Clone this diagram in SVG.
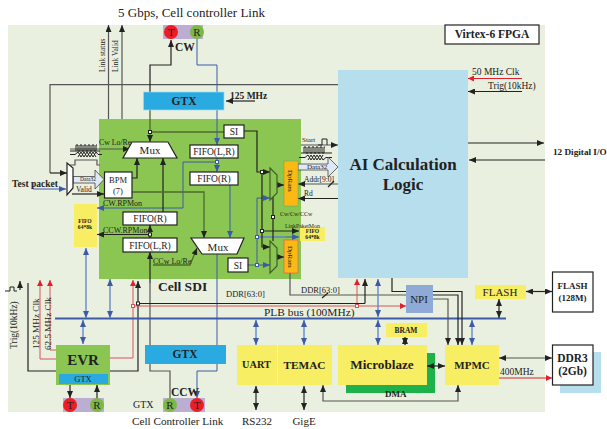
<svg xmlns="http://www.w3.org/2000/svg" width="607" height="429" viewBox="0 0 607 429">
<style>
text{font-family:"Liberation Serif","Times New Roman",serif;fill:#222}
.b{font-weight:bold}
.m{text-anchor:middle}
.box{fill:#fff;stroke:#222;stroke-width:1.2}
.yel{fill:#f8ee63}
.blk{fill:none;stroke:#222;stroke-width:1}
.k2{fill:none;stroke:#222;stroke-width:1.2}
.gr{fill:none;stroke:#555;stroke-width:1.2}
.dg{fill:none;stroke:#4e6a2c;stroke-width:1.3}
.blu{fill:none;stroke:#3c5aa8;stroke-width:1}
.bl2{fill:none;stroke:#6e8fca;stroke-width:1.5}
.red{fill:none;stroke:#d9535a;stroke-width:1}
.red2{fill:none;stroke:#e0202c;stroke-width:1}
.sq{stroke:#222;fill:#fff;stroke-width:1}
.T{fill:#ee1c25}.R{fill:#7cb846}.P{fill:#bcaed2}
.gtx{fill:#29abe2}
.mux{fill:#8bc653;stroke:#3f5f25;stroke-width:1.2}
</style>
<defs>
<marker id="a" markerUnits="userSpaceOnUse" markerWidth="8" markerHeight="6" refX="7" refY="3" orient="auto-start-reverse"><path d="M0 0L7 3L0 6Z" fill="#222"/></marker>
<marker id="ab" markerUnits="userSpaceOnUse" markerWidth="8" markerHeight="6" refX="7" refY="3" orient="auto-start-reverse"><path d="M0 0L7 3L0 6Z" fill="#3c5aa8"/></marker>
<marker id="ar" markerUnits="userSpaceOnUse" markerWidth="7" markerHeight="6" refX="6" refY="3" orient="auto-start-reverse"><path d="M0 0L6 3L0 6Z" fill="#e0202c"/></marker>
</defs>
<rect x="8" y="25" width="537" height="387" fill="#eaf0df"/>
<rect x="560" y="352" width="41" height="41" fill="#b7deec"/>
<rect x="99" y="119" width="202" height="160" fill="#8bc653"/>
<rect x="338" y="70" width="130" height="208" fill="#b7deec"/>
<rect x="346" y="353" width="89" height="40" fill="#1db14b"/>

<g id="connectors">
<path class="gr" d="M50 173V84.700H338"/>
<path class="k2" marker-end="url(#a)" d="M50 173H67"/>
<path class="gr" marker-end="url(#a)" d="M108.500 119V25"/>
<path class="gr" marker-end="url(#a)" d="M122 119V25"/>
<path class="k2" marker-end="url(#a)" d="M150 92V65H171V40"/>
<path class="blu" d="M197 39V65H217V92"/>
<path class="k2" marker-end="url(#a)" d="M255 101H226"/>
<path class="dg" marker-end="url(#a)" d="M150 110V142"/>
<path class="dg" d="M150 132H224"/>
<path class="blu" marker-end="url(#ab)" d="M217 110V145"/>
<path class="blu" marker-end="url(#ab)" d="M217 158V172"/>
<path class="blu" marker-end="url(#ab)" d="M217 162H183V208H97"/>
<path class="gr" marker-end="url(#a)" d="M70 149H130"/>
<path class="blk" d="M70 151H100"/>
<path class="blk" d="M76 151V145H78V151H80V145H82V151H84V145H86V151H88V145H90V151H92V145H94V151H96V145H97"/>
<path class="blk" d="M70 154.500H75L78 152L81 157L84 152L87 157L90 152L93 157L96 152L98 154.500H102M78 157L81 152L84 157L87 152L90 157L93 152L96 157"/>
<path class="gr" d="M70 165H75V160H97V165H100"/>
<path d="M73 176.500H95V170L104 179.500L95 189V183H73Z" fill="#dfe8f5" stroke="#444" stroke-width="0.8"/>
<path class="k2" marker-end="url(#a)" d="M72 194H104"/>
<path class="blu" marker-end="url(#ab)" d="M33 183V189H66"/>
<path class="k2" marker-end="url(#a)" d="M132 178H137V158"/>
<path class="k2" marker-end="url(#a)" d="M163 212V158"/>
<path class="dg" marker-end="url(#a)" d="M132 192H204V238"/>
<path class="k2" marker-end="url(#a)" d="M150 238V225"/>
<path class="k2" marker-end="url(#a)" d="M150 234.500H97"/>
<path class="k2" marker-end="url(#a)" d="M150 283V252"/>
<path class="gr" d="M150 283V371H170V398"/>
<path class="dg" marker-end="url(#a)" d="M153 265H190L197 248"/>
<path class="blu" marker-end="url(#ab)" d="M230 185V238"/>
<path class="blu" marker-end="url(#ab)" d="M217 254V371H197V398"/>
<path class="blu" marker-end="url(#ab)" d="M257 265V198H270"/>
<path class="blu" marker-end="url(#ab)" d="M257 237H299"/>
<path class="bl2" d="M257 237H286"/>
<path class="blu" marker-end="url(#ab)" d="M248 265H270"/>
<path class="k2" marker-end="url(#a)" d="M244 131H257V172H270"/>
<path class="k2" marker-end="url(#a)" d="M262 172V247H270"/>
<path class="k2" marker-end="url(#a)" d="M262 231H299"/>
<path class="k2" d="M273 195V241"/>
<path class="k2" marker-end="url(#a)" d="M277 185H284"/>
<path class="k2" marker-end="url(#a)" d="M277 257H284"/>
<path class="gr" d="M290 273V295H406"/>
<path class="k2" d="M322 298L328 293"/>
<path class="gr" marker-end="url(#a)" d="M301 145H338"/>
<path class="blk" d="M318 145H322V139H327V145"/>
<path class="blk" d="M301 153H332M304 153V147H306V153H308V147H310V153H312V147H314V153H316V147H318V153H320V147H322V153H324V147H325"/>
<path class="blk" d="M299 157.500H305L308 155L311 160L314 155L317 160L320 155L323 160L326 157.500H332M308 160L311 155L314 160L317 155L320 160L323 155"/>
<path d="M298 164H328V157L338 167L328 177V170H298Z" fill="#dfe8f5" stroke="#444" stroke-width="0.8"/>
<path class="gr" marker-end="url(#a)" d="M338 184H298"/>
<path class="k2" d="M328 187L334 181"/>
<path class="k2" marker-end="url(#a)" d="M338 198.500H298"/>
<path class="red2" marker-end="url(#ar)" d="M522 78.500H468"/>
<path class="k2" marker-end="url(#a)" d="M522 91.500H468"/>
<path class="k2" marker-end="url(#a)" d="M468 143H544"/>
<path class="k2" marker-end="url(#a)" d="M545 160H469"/>
<path class="k2" marker-end="url(#a)" d="M28 283V371H56M110 371H138V281"/>
<path class="k2" marker-end="url(#a)" d="M20 290V281"/>
<path class="blk" d="M5 291H10V287H14V291H17"/>
<path class="red" marker-end="url(#ar)" d="M56 359H40V280"/>
<path class="red" marker-end="url(#ar)" d="M56 350H50V280"/>
<path class="red" marker-end="url(#ar)" d="M110 358H133V280"/>
<path class="red" marker-end="url(#ar)" d="M133 306H406"/>
<path class="red" marker-end="url(#ar)" d="M357 306V279"/>
<path class="k2" d="M138 303.500H365"/>
<path class="k2" marker-end="url(#a)" d="M365 303.500V279"/>
<path class="k2" d="M392 278V291.500H406"/>
<path d="M55 318.500H506" fill="none" stroke="#3c5aa8" stroke-width="2"/>
<path class="bl2" marker-start="url(#ab)" marker-end="url(#ab)" d="M86 248V318"/>
<path class="bl2" marker-start="url(#ab)" marker-end="url(#ab)" d="M110 279V318"/>
<path class="bl2" marker-start="url(#ab)" marker-end="url(#ab)" d="M83 320V344"/>
<path class="bl2" marker-start="url(#ab)" marker-end="url(#ab)" d="M256 320V345"/>
<path class="bl2" marker-start="url(#ab)" marker-end="url(#ab)" d="M304 320V345"/>
<path class="bl2" marker-start="url(#ab)" marker-end="url(#ab)" d="M378 279V317"/>
<path class="bl2" marker-start="url(#ab)" marker-end="url(#ab)" d="M378 320V345"/>
<path class="bl2" marker-start="url(#ab)" marker-end="url(#ab)" d="M472 320V345"/>
<path class="k2" marker-start="url(#a)" marker-end="url(#a)" d="M499 299V318"/>
<path class="k2" marker-start="url(#a)" marker-end="url(#a)" d="M405 337V345"/>
<path class="k2" marker-end="url(#a)" d="M433 291.500H462V345"/>
<path class="k2" marker-end="url(#a)" d="M433 295H458V345"/>
<path class="gr" marker-end="url(#a)" d="M433 299H448V345"/>
<path class="k2" marker-start="url(#a)" marker-end="url(#a)" d="M526 291.500H552"/>
<path class="gr" marker-start="url(#a)" marker-end="url(#a)" d="M499 358H552"/>
<path class="k2" marker-start="url(#a)" marker-end="url(#a)" d="M427 366H445"/>
<path class="red2" marker-end="url(#ar)" d="M499 378H552"/>
<path class="gr" marker-start="url(#a)" marker-end="url(#a)" d="M323 385V401H458V385"/>
<path class="k2" marker-end="url(#a)" d="M70 385V398"/>
<path class="k2" marker-end="url(#a)" d="M97 398V385"/>
<path class="k2" marker-start="url(#a)" marker-end="url(#a)" d="M256 386V410"/>
<path class="k2" marker-start="url(#a)" marker-end="url(#a)" d="M304 386V410"/>
<rect class="sq" x="148.500" y="130.500" width="3" height="3"/>
<rect class="sq" x="148.500" y="233" width="3" height="3"/>
<rect class="sq" x="215.500" y="160.500" width="3" height="3" style="stroke:#3c5aa8"/>
<rect class="sq" x="255.500" y="235.500" width="3" height="3" style="stroke:#3c5aa8"/>
<rect class="sq" x="255.500" y="263.500" width="3" height="3" style="stroke:#3c5aa8"/>
<rect class="sq" x="260.500" y="170.500" width="3" height="3"/>
<rect class="sq" x="260.500" y="229.500" width="3" height="3"/>
<rect class="sq" x="271.500" y="215.500" width="3" height="3"/>
<rect class="sq" x="136.500" y="302" width="3" height="3"/>
<rect class="sq" x="131.500" y="304.500" width="3" height="3" style="stroke:#d9535a"/>
<rect class="sq" x="355.500" y="304.500" width="3" height="3" style="stroke:#d9535a"/>
</g>

<g id="cw"><rect class="P" x="163" y="25" width="40" height="14"/><circle class="T" cx="171" cy="32" r="7"/><circle class="R" cx="197" cy="32" r="7"/><text x="171" y="36" class="m" font-size="11">T</text><text x="197" y="36" class="m" font-size="11">R</text><text x="175" y="51" class="b" font-size="11.500">CW</text></g>
<g id="gtx-top"><rect class="gtx" x="143.500" y="92" width="80.500" height="18" stroke="#9fd8f0" stroke-width="0.7"/><text x="184" y="105" class="b m" font-size="11.500">GTX</text></g>
<g id="gtx-bottom"><rect class="gtx" x="145" y="345" width="81" height="19"/><text x="185" y="358" class="b m" font-size="11.500">GTX</text></g>
<g id="mux-top"><path class="box" d="M132 142H168L177 158H123Z"/><text x="150" y="154" class="m" font-size="11">Mux</text></g>
<g id="mux-bottom"><path class="box" d="M191 238H244L237 254H202Z"/><text x="218" y="250.500" class="m" font-size="11">Mux</text></g>
<g id="fifo-lr-top"><rect class="box" x="190" y="145" width="48" height="13"/><text x="214" y="155" class="m" font-size="9.500">FIFO(L,R)</text></g>
<g id="fifo-r-top"><rect class="box" x="190" y="172" width="48" height="13"/><text x="214" y="182" class="m" font-size="9.500">FIFO(R)</text></g>
<g id="si-top"><rect class="box" x="224" y="125" width="20" height="13"/><text x="234" y="135" class="m" font-size="9.500">SI</text></g>
<g id="si-bottom"><rect class="box" x="228" y="258" width="20" height="14"/><text x="238" y="268.500" class="m" font-size="9.500">SI</text></g>
<g id="fifo-r-bottom"><rect class="box" x="123" y="212" width="54" height="13"/><text x="150" y="222" class="m" font-size="9.500">FIFO(R)</text></g>
<g id="fifo-lr-bottom"><rect class="box" x="123" y="238" width="54" height="14"/><text x="150" y="248.500" class="m" font-size="9.500">FIFO(L,R)</text></g>
<g id="bpm"><rect class="box" x="104.500" y="172" width="27.500" height="26"/><text x="118" y="183" class="m" font-size="8.500">BPM</text><text x="118" y="193.500" class="m" font-size="8.500">(7)</text></g>
<g id="input-mux"><path class="box" d="M67 163L73 168V188L67 195Z"/></g>
<g id="fifo-left"><rect class="yel" x="74" y="204" width="23" height="43"/><text x="85" y="223" class="b m" font-size="5.600">FIFO</text><text x="85" y="229" class="b m" font-size="5.600">64*8k</text></g>
<g id="fifo-right"><rect class="yel" x="300" y="227" width="25" height="14"/><text x="312.500" y="232.500" class="b m" font-size="5.600">FIFO</text><text x="312.500" y="238.500" class="b m" font-size="5.600">64*8k</text></g>
<g id="right-mux"><path class="mux" d="M270 168L277 175V193L270 200Z"/><path class="mux" d="M270 241L277 248V266L270 273Z"/></g>
<g id="dpram-top"><rect x="284" y="161" width="14" height="45" fill="#fdb913" stroke="#7aa040" stroke-width="0.5"/><text transform="translate(288,170) rotate(90)" font-size="7">DpRam</text></g>
<g id="dpram-bottom"><rect x="284" y="240" width="14" height="33" fill="#fdb913" stroke="#d9535a" stroke-width="0.6"/><text transform="translate(288,246) rotate(90)" font-size="7">DpRam</text></g>
<g id="ai"><text x="403" y="170" class="b m" font-size="17">AI Calculation</text><text x="403" y="190" class="b m" font-size="17">Logic</text></g>
<g id="virtex"><rect class="box" x="445" y="25" width="94" height="19"/><text x="492" y="38" class="b m" font-size="11.500">Virtex-6 FPGA</text></g>
<g id="npi"><rect x="406" y="285" width="27" height="28" fill="#8faad6"/><text x="419" y="303" class="m" font-size="11">NPI</text></g>
<g id="flash"><rect class="yel" x="475" y="285" width="51" height="14"/><text x="500" y="296" class="m" font-size="11">FLASH</text></g>
<g id="flash-chip"><rect class="box" x="552.500" y="272" width="40.500" height="40"/><text x="572.500" y="289" class="b m" font-size="9">FLASH</text><text x="572.500" y="301" class="b m" font-size="9">(128M)</text></g>
<g id="ddr3"><rect class="box" x="552.500" y="345" width="40.500" height="40"/><text x="572.500" y="362" class="b m" font-size="11.500">DDR3</text><text x="572.500" y="375" class="b m" font-size="11.500">(2Gb)</text></g>
<g id="mpmc"><rect class="yel" x="445" y="345" width="54" height="40"/><text x="472" y="369" class="b m" font-size="11">MPMC</text></g>
<g id="microblaze"><rect class="yel" x="338" y="345" width="89" height="40"/><text x="382" y="369" class="b m" font-size="13.200">Microblaze</text></g>
<g id="bram"><rect class="yel" x="386" y="323" width="41" height="14"/><text x="406" y="332.500" class="b m" font-size="7.500">BRAM</text></g>
<g id="uart"><rect class="yel" x="237" y="345" width="40" height="40"/><text x="256.500" y="368" class="b m" font-size="10.300">UART</text></g>
<g id="temac"><rect class="yel" x="278" y="345" width="54" height="40"/><text x="304.500" y="369" class="b m" font-size="11.300">TEMAC</text></g>
<g id="evr"><rect x="56" y="345" width="54" height="40" fill="#8bc653"/><rect class="gtx" x="59" y="374" width="49" height="10"/><text x="83" y="365" class="b m" font-size="15">EVR</text><text x="83" y="382" class="m" font-size="8.500">GTX</text></g>
<g id="evr-port"><rect class="P" x="63" y="398" width="41" height="14"/><circle class="T" cx="70" cy="405" r="7"/><circle class="R" cx="97" cy="405" r="7"/><text x="70" y="409" class="m" font-size="11">T</text><text x="97" y="409" class="m" font-size="11">R</text></g>
<g id="ccw"><rect class="P" x="163" y="398" width="42" height="14"/><circle class="R" cx="170" cy="405" r="7"/><circle class="T" cx="197" cy="405" r="7"/><text x="170" y="409" class="m" font-size="11">R</text><text x="197" y="409" class="m" font-size="11">T</text><text x="171" y="396" class="b" font-size="11.500">CCW</text></g>

<g id="labels">
<text x="118" y="17" font-size="13">5 Gbps, Cell controller Link</text>
<text transform="translate(105,72) rotate(-90)" font-size="7.500">Link status</text>
<text transform="translate(118,72) rotate(-90)" font-size="7.500">Link Valid</text>
<text x="230" y="98.500" class="b" font-size="9.500">125 MHz</text>
<text x="99" y="145" font-size="7.800">Cw Lo/Re</text>
<text x="88" y="181" class="m" font-size="5.500">Data32</text>
<text x="76" y="192" font-size="7.500">Valid</text>
<text x="12" y="187" class="b" font-size="9.500">Test packet</text>
<text x="103" y="206" font-size="8">CW.RPMon</text>
<text x="103" y="233" font-size="8">CCW.RPMon</text>
<text x="153" y="263.500" font-size="8">CCw Lo/Re</text>
<text x="158" y="291" class="b" font-size="13.500">Cell SDI</text>
<text x="302" y="142" font-size="7">Start</text>
<text x="307" y="169" font-size="7">Data32</text>
<text x="304" y="182" font-size="7.500">Addr[9:0]</text>
<text x="304" y="196" font-size="7.500">Rd</text>
<text x="280" y="216" font-size="6">Cw/Cw/CCw</text>
<text x="285" y="227.500" font-size="5.800">LinkPaketMon</text>
<text x="226" y="297" font-size="8.500">DDR[63:0]</text>
<text x="301" y="293" font-size="8.500">DDR[63:0]</text>
<text x="264" y="316" font-size="11.400">PLB bus (100MHz)</text>
<text x="472" y="75" font-size="9.500">50  MHz Clk</text>
<text x="488" y="89" font-size="9.500">Trig(10kHz)</text>
<text x="553" y="155" class="b" font-size="9.200">12 Digital I/O</text>
<text x="500" y="375" font-size="9.500">400MHz</text>
<text x="385" y="397" class="b" font-size="9">DMA</text>
<text transform="translate(17,349) rotate(-90)" font-size="9.500">Trig(10kHz)</text>
<text transform="translate(39,349) rotate(-90)" font-size="9.200">125 MHz Clk</text>
<text transform="translate(50.500,350) rotate(-90)" font-size="9.200">62.5 MHz Clk</text>
<text x="133" y="408" font-size="10">GTX</text>
<text x="132" y="425" font-size="11.200">Cell Controller Link</text>
<text x="257" y="425" class="m" font-size="11">RS232</text>
<text x="304" y="425" class="m" font-size="11">GigE</text>
</g>
</svg>
